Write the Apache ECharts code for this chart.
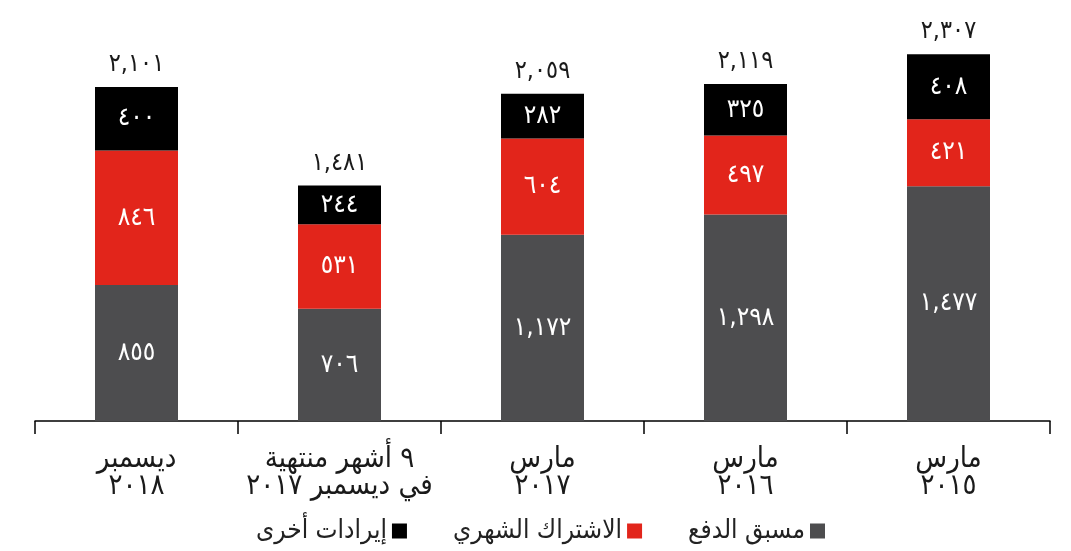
<!DOCTYPE html>
<html>
<head>
<meta charset="utf-8">
<script src="https://cdn.jsdelivr.net/npm/echarts@6/dist/echarts.min.js"></script>
<style>
  html, body { margin: 0; padding: 0; background: #fff; }
  #chart { width: 1071px; height: 551px; }
</style>
</head>
<body>
<div id="chart"></div>
<script>
var categories = ['ديسمبر\n٢٠١٨', '٩ أشهر منتهية\nفي ديسمبر ٢٠١٧', 'مارس\n٢٠١٧', 'مارس\n٢٠١٦', 'مارس\n٢٠١٥'];
var prepaid = [855, 706, 1172, 1298, 1477];
var postpaid = [846, 531, 604, 497, 421];
var other = [400, 244, 282, 325, 408];
var totals = [2101, 1481, 2059, 2119, 2307];

var names = ['مسبق الدفع', 'الاشتراك الشهري', 'إيرادات أخرى'];
var font = 'DejaVu Sans Condensed, DejaVu Sans, sans-serif';

// western digits -> arabic-indic, keep the comma
function ar(n) {
  return n.toLocaleString('en-US').replace(/\d/g, function (d) { return '٠١٢٣٤٥٦٧٨٩'[d]; });
}

var inside = {
  show: true,
  position: 'inside',
  color: '#fff',
  fontSize: 26,
  fontFamily: font,
  formatter: function (p) { return ar(p.value); }
};

var chart = echarts.init(document.getElementById('chart'), null, { renderer: 'canvas' });

chart.setOption({
  animation: false,
  grid: { left: 35, right: 21, top: 23.5, bottom: 130 },
  legend: {
    data: [names[2], names[1], names[0]],
    bottom: 2,
    right: 241,
    align: 'right',
    icon: 'rect',
    itemWidth: 15,
    itemHeight: 15,
    itemGap: 46,
    textStyle: { fontSize: 26, fontFamily: font, color: '#222' }
  },
  xAxis: {
    type: 'category',
    data: categories,
    axisLine: { lineStyle: { color: '#000', width: 1.5 } },
    axisTick: { show: true, interval: 0, length: 13, lineStyle: { color: '#000', width: 1.5 } },
    axisLabel: { interval: 0, margin: 25, fontSize: 29, lineHeight: 27, fontFamily: font, color: '#1a1a1a' }
  },
  yAxis: { type: 'value', min: 0, max: 2500, show: false },
  series: [
    { name: names[0], type: 'bar', stack: 'a', barWidth: 83, data: prepaid,
      itemStyle: { color: '#4d4d4f' }, label: inside },
    { name: names[1], type: 'bar', stack: 'a', data: postpaid,
      itemStyle: { color: '#e2251b' }, label: inside },
    { name: names[2], type: 'bar', stack: 'a', data: other,
      itemStyle: { color: '#000' }, label: inside },
    { name: 'total', type: 'bar', stack: 'a', data: totals.map(function () { return 0; }),
      itemStyle: { color: 'transparent' },
      label: {
        show: true, position: 'top', distance: 10, fontSize: 25, fontFamily: font, color: '#1a1a1a',
        formatter: function (p) { return ar(totals[p.dataIndex]); }
      } }
  ]
});
</script>
</body>
</html>
